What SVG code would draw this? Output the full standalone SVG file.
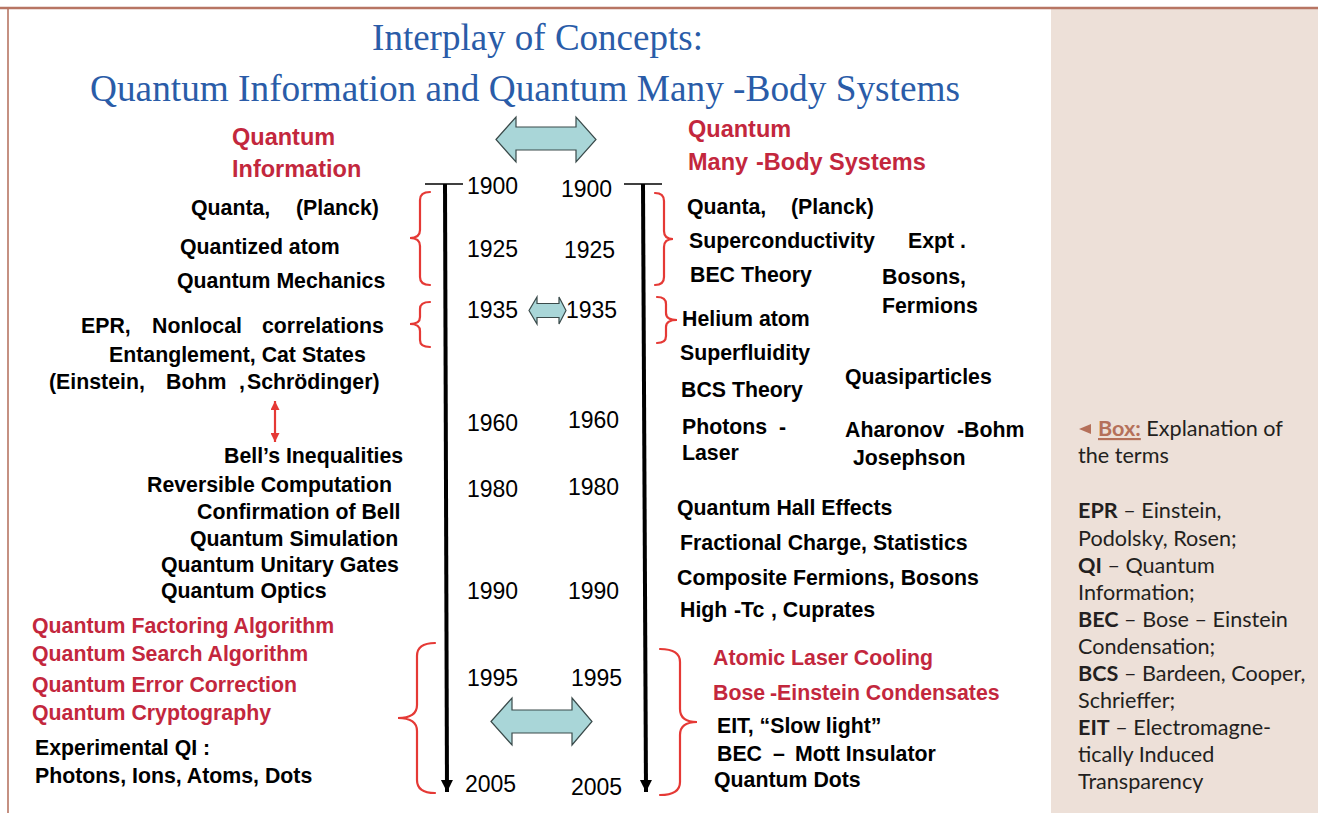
<svg xmlns="http://www.w3.org/2000/svg" width="1318" height="813" viewBox="0 0 1318 813">
<defs>
<style>
.t{font-family:"Liberation Sans",Arial,sans-serif;font-weight:bold;font-size:21.3px;fill:#000}
.r{font-family:"Liberation Sans",Arial,sans-serif;font-weight:bold;font-size:21.3px;fill:#c3273d}
.h{font-family:"Liberation Sans",Arial,sans-serif;font-weight:bold;font-size:23.5px;fill:#c3273d}
.y{font-family:"Liberation Sans",Arial,sans-serif;font-size:23px;fill:#000}
.ti{font-family:"Liberation Serif","Times New Roman",serif;font-size:37px;fill:#2a5ca8}
.bx{font-family:Lato,"Liberation Sans",sans-serif;font-size:21.6px;fill:#231f20}
.bx .b{font-weight:bold}
.brace{fill:none;stroke:#e53935;stroke-width:2.2;stroke-linecap:round}
.dbl{fill:#a9d6d8;stroke:#3a4a4a;stroke-width:1.2}
.tl{stroke:#000;stroke-width:4;fill:none}
.tick{stroke:#000;stroke-width:1.6;fill:none}
</style>
<marker id="ah" viewBox="0 0 10 10" refX="10" refY="5" markerWidth="12" markerHeight="14" markerUnits="userSpaceOnUse" orient="auto-start-reverse">
<path d="M0,0 L10,5 L0,10 Z" fill="#000"/>
</marker>
<marker id="rh" viewBox="0 0 10 10" refX="10" refY="5" markerWidth="9" markerHeight="9" markerUnits="userSpaceOnUse" orient="auto-start-reverse">
<path d="M0,0 L10,5 L0,10 Z" fill="#e53935"/>
</marker>
</defs>

<rect x="0" y="0" width="1318" height="813" fill="#fff"/>
<rect id="panel" x="1051" y="9" width="267" height="804" fill="#ede0d8"/>
<line x1="0" y1="8" x2="1318" y2="8" stroke="#b77563" stroke-width="2.6"/>
<line x1="8" y1="8" x2="8" y2="813" stroke="#b77563" stroke-width="1.6"/>

<g id="title">
<text class="ti" x="537.5" y="50" text-anchor="middle">Interplay of Concepts:</text>
<text class="ti" x="90" y="101" textLength="870" lengthAdjust="spacingAndGlyphs">Quantum Information and Quantum Many -Body Systems</text>
</g>

<g id="header-qi">
<text class="h" x="232" y="145">Quantum</text>
<text class="h" x="232" y="177">Information</text>
</g>
<g id="header-mb">
<text class="h" x="688" y="137">Quantum</text>
<text class="h" y="170"><tspan x="688">Many</tspan><tspan x="756">-Body Systems</tspan></text>
</g>

<g id="connectors">
<polygon class="dbl" points="496,139.5 516,117 516,127 576,127 576,117 596,139.5 576,162 576,150 516,150 516,162"/>
<polygon class="dbl" points="529,310.5 537,297 537,303.5 559,303.5 559,297 566,310.5 559,324 559,317.5 537,317.5 537,324"/>
<polygon class="dbl" points="491,721.5 512,698 512,710 572,710 572,698 592,721.5 572,745 572,733 512,733 512,745"/>
<line class="tick" x1="425" y1="184" x2="463" y2="184"/>
<line class="tick" x1="624" y1="184" x2="662" y2="184"/>
<line class="tl" x1="445" y1="184" x2="447" y2="792" marker-end="url(#ah)"/>
<line class="tl" x1="643" y1="184" x2="646" y2="792" marker-end="url(#ah)"/>
<line x1="275" y1="401" x2="275" y2="442" stroke="#e53935" stroke-width="2.2" marker-start="url(#rh)" marker-end="url(#rh)"/>
<path class="brace" d="M430,192 Q420,192 420,200 L420,230 Q420,238 410,238 Q420,238 420,246 L420,277 Q420,285 430,285"/>
<path class="brace" d="M430,302 Q420,302 420,309 L420,317 Q420,324 410,324 Q420,324 420,331 L420,340 Q420,347 430,347"/>
<path class="brace" d="M435,643 Q417,643 417,656 L417,705 Q417,718 398,718 Q417,718 417,731 L417,780 Q417,793 435,793"/>
<path class="brace" d="M655,193 Q664,193 664,201 L664,231 Q664,239 673,239 Q664,239 664,247 L664,277 Q664,285 655,285"/>
<path class="brace" d="M657,297 Q666,297 666,304 L666,313 Q666,320 677,320 Q666,320 666,327 L666,336 Q666,343 657,343"/>
<path class="brace" d="M660,649 Q680,649 680,662 L680,709 Q680,722 697,722 Q680,722 680,735 L680,782 Q680,795 660,795"/>
</g>

<g id="years-left">
<text class="y" x="467" y="194">1900</text>
<text class="y" x="467" y="257">1925</text>
<text class="y" x="467" y="318">1935</text>
<text class="y" x="467" y="431">1960</text>
<text class="y" x="467" y="497">1980</text>
<text class="y" x="467" y="599">1990</text>
<text class="y" x="467" y="686">1995</text>
<text class="y" x="465" y="792">2005</text>
</g>
<g id="years-right">
<text class="y" x="561" y="197">1900</text>
<text class="y" x="564" y="258">1925</text>
<text class="y" x="566" y="318">1935</text>
<text class="y" x="568" y="428">1960</text>
<text class="y" x="568" y="495">1980</text>
<text class="y" x="568" y="599">1990</text>
<text class="y" x="571" y="686">1995</text>
<text class="y" x="571" y="795">2005</text>
</g>

<g id="qi-items">
<text class="t" y="215"><tspan x="191">Quanta,</tspan><tspan x="296">(Planck)</tspan></text>
<text class="t" x="180" y="254">Quantized atom</text>
<text class="t" x="177" y="288">Quantum Mechanics</text>
<text class="t" y="333"><tspan x="81">EPR,</tspan><tspan x="152">Nonlocal</tspan><tspan x="262">correlations</tspan></text>
<text class="t" x="109" y="362">Entanglement, Cat States</text>
<text class="t" y="389"><tspan x="49">(Einstein,</tspan><tspan x="166">Bohm</tspan><tspan x="239">,</tspan><tspan x="247">Schrödinger)</tspan></text>
<text class="t" x="224" y="463">Bell’s Inequalities</text>
<text class="t" x="147" y="492">Reversible Computation</text>
<text class="t" x="197" y="519">Confirmation of Bell</text>
<text class="t" x="190" y="546">Quantum Simulation</text>
<text class="t" x="161" y="572">Quantum Unitary Gates</text>
<text class="t" x="161" y="598">Quantum Optics</text>
<text class="r" x="32" y="633">Quantum Factoring Algorithm</text>
<text class="r" x="32" y="661">Quantum Search Algorithm</text>
<text class="r" x="32" y="692">Quantum Error Correction</text>
<text class="r" x="32" y="720">Quantum Cryptography</text>
<text class="t" x="35" y="755">Experimental QI :</text>
<text class="t" x="35" y="783">Photons, Ions, Atoms, Dots</text>
</g>

<g id="mb-items">
<text class="t" y="214"><tspan x="687">Quanta,</tspan><tspan x="791">(Planck)</tspan></text>
<text class="t" x="689" y="248">Superconductivity</text>
<text class="t" x="908" y="248">Expt .</text>
<text class="t" x="690" y="282">BEC Theory</text>
<text class="t" x="882" y="284">Bosons,</text>
<text class="t" x="882" y="313">Fermions</text>
<text class="t" x="682" y="326">Helium atom</text>
<text class="t" x="680" y="360">Superfluidity</text>
<text class="t" x="681" y="397">BCS Theory</text>
<text class="t" x="845" y="384">Quasiparticles</text>
<text class="t" y="434"><tspan x="682">Photons</tspan><tspan x="779">-</tspan></text>
<text class="t" x="682" y="460">Laser</text>
<text class="t" y="437"><tspan x="845">Aharonov</tspan><tspan x="957">-Bohm</tspan></text>
<text class="t" x="853" y="465">Josephson</text>
<text class="t" x="677" y="515">Quantum Hall Effects</text>
<text class="t" x="680" y="550">Fractional Charge, Statistics</text>
<text class="t" x="677" y="585">Composite Fermions, Bosons</text>
<text class="t" y="617"><tspan x="680">High</tspan><tspan x="734">-Tc</tspan><tspan x="771">, Cuprates</tspan></text>
<text class="r" x="713" y="665">Atomic Laser Cooling</text>
<text class="r" y="700"><tspan x="713">Bose</tspan><tspan x="770">-Einstein Condensates</tspan></text>
<text class="t" x="717" y="733">EIT, “Slow light”</text>
<text class="t" y="761"><tspan x="717">BEC</tspan><tspan x="773">–</tspan><tspan x="795">Mott Insulator</tspan></text>
<text class="t" x="714" y="787">Quantum Dots</text>
</g>

<g id="box">
<polygon points="1079,429 1091,424 1091,434" fill="#b5705a"/>
<text class="bx" y="436"><tspan x="1098" class="b" fill="#b5705a" text-decoration="underline">Box:</tspan><tspan> Explanation of</tspan></text>
<text class="bx" x="1078" y="463">the terms</text>
<text class="bx" x="1078" y="518"><tspan class="b">EPR</tspan> – Einstein,</text>
<text class="bx" x="1078" y="546">Podolsky, Rosen;</text>
<text class="bx" x="1078" y="573"><tspan class="b">QI</tspan> – Quantum</text>
<text class="bx" x="1078" y="600">Information;</text>
<text class="bx" x="1078" y="627"><tspan class="b">BEC</tspan> – Bose – Einstein</text>
<text class="bx" x="1078" y="654">Condensation;</text>
<text class="bx" x="1078" y="681"><tspan class="b">BCS</tspan> – Bardeen, Cooper,</text>
<text class="bx" x="1078" y="708">Schrieffer;</text>
<text class="bx" x="1078" y="735"><tspan class="b">EIT</tspan> – Electromagne-</text>
<text class="bx" x="1078" y="762">tically Induced</text>
<text class="bx" x="1078" y="789">Transparency</text>
</g>
</svg>
